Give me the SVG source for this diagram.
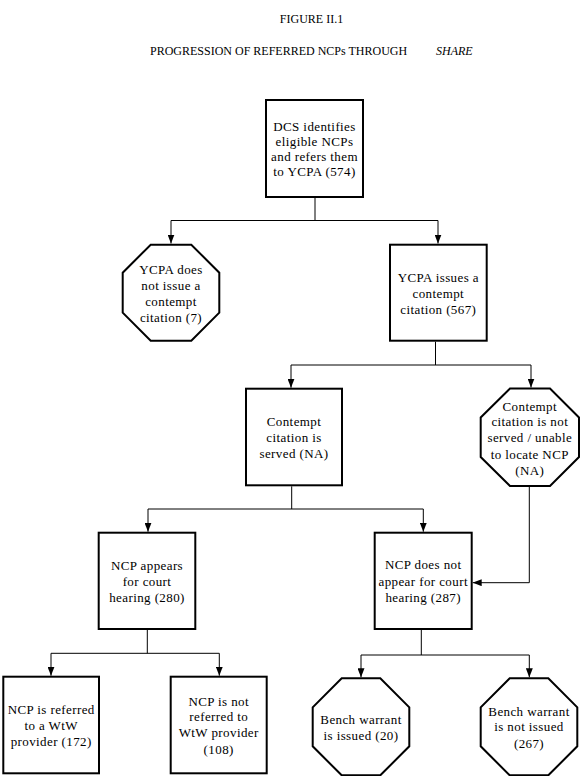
<svg xmlns="http://www.w3.org/2000/svg" width="582" height="776" viewBox="0 0 582 776">
<style>
.t{font-family:"Liberation Serif",serif;font-size:12px;fill:#000}
.n{font-family:"Liberation Serif",serif;font-size:13px;text-anchor:middle;letter-spacing:0.4px;fill:#000}
.box{fill:#fff;stroke:#000;stroke-width:2}
.c{fill:none;stroke:#000;stroke-width:1}
</style>
<defs>
<marker id="ah" markerUnits="userSpaceOnUse" markerWidth="9" markerHeight="7" refX="9" refY="3.5" orient="auto">
<path d="M0,0 L9,3.5 L0,7 z" fill="#000"/>
</marker>
</defs>
<rect width="582" height="776" fill="#fff"/>
<g id="title">
<text class="t" x="311.5" y="23" text-anchor="middle">FIGURE II.1</text>
<text class="t" x="150" y="55">PROGRESSION OF REFERRED NCPs THROUGH</text>
<text class="t" x="436" y="55" font-style="italic">SHARE</text>
</g>
<g id="connectors">
<path class="c" d="M315,198 V220.5 M171,220.5 H438"/>
<path class="c" d="M171,220.5 V243.5" marker-end="url(#ah)"/>
<path class="c" d="M438,220.5 V243.5" marker-end="url(#ah)"/>
<path class="c" d="M435.5,341.7 V365 M291,365 H531"/>
<path class="c" d="M291,365 V387.7" marker-end="url(#ah)"/>
<path class="c" d="M531,365 V387.5" marker-end="url(#ah)"/>
<path class="c" d="M291.7,486.3 V509 M148,509 H423.3"/>
<path class="c" d="M148,509 V531.7" marker-end="url(#ah)"/>
<path class="c" d="M423.3,509 V531.7" marker-end="url(#ah)"/>
<path class="c" d="M529.3,487 V582.7 H472.7" marker-end="url(#ah)"/>
<path class="c" d="M147.3,630 V653.3 M51,653.3 H219.3"/>
<path class="c" d="M51,653.3 V675.7" marker-end="url(#ah)"/>
<path class="c" d="M219.3,653.3 V675.7" marker-end="url(#ah)"/>
<path class="c" d="M421.3,630 V655 M361,655 H529.3"/>
<path class="c" d="M361,655 V677.3" marker-end="url(#ah)"/>
<path class="c" d="M529.3,655 V677.3" marker-end="url(#ah)"/>
</g>
<g id="n1">
<rect class="box" x="266" y="100" width="97" height="97"/>
<text class="n" x="314.5" y="131">DCS identifies</text>
<text class="n" x="314.5" y="146">eligible NCPs</text>
<text class="n" x="314.5" y="161">and refers them</text>
<text class="n" x="314.5" y="176">to YCPA (574)</text>
</g>
<g id="n2">
<polygon class="box" points="150.7,244.7 191.3,244.7 219.3,272.7 219.3,312.7 191.3,340.7 150.7,340.7 122.7,312.7 122.7,272.7"/>
<text class="n" x="171" y="274">YCPA does</text>
<text class="n" x="171" y="289.5">not issue a</text>
<text class="n" x="171" y="305.5">contempt</text>
<text class="n" x="171" y="321.5">citation (7)</text>
</g>
<g id="n3">
<rect class="box" x="390" y="244.7" width="96.7" height="96"/>
<text class="n" x="438.3" y="282">YCPA issues a</text>
<text class="n" x="438.3" y="298">contempt</text>
<text class="n" x="438.3" y="314">citation (567)</text>
</g>
<g id="n4">
<rect class="box" x="246" y="388.7" width="96" height="96.6"/>
<text class="n" x="294" y="426">Contempt</text>
<text class="n" x="294" y="442">citation is</text>
<text class="n" x="294" y="458">served (NA)</text>
</g>
<g id="n5">
<polygon class="box" points="510,388.5 550,388.5 579,417.5 579,457 550,486 510,486 480.7,457 480.7,417.5"/>
<text class="n" x="529.8" y="410.5">Contempt</text>
<text class="n" x="529.8" y="426">citation is not</text>
<text class="n" x="529.8" y="442">served / unable</text>
<text class="n" x="529.8" y="458.5">to locate NCP</text>
<text class="n" x="529.8" y="474.5">(NA)</text>
</g>
<g id="n6">
<rect class="box" x="98.7" y="532.7" width="96.6" height="96.3"/>
<text class="n" x="147" y="569.5">NCP appears</text>
<text class="n" x="147" y="585.5">for court</text>
<text class="n" x="147" y="602">hearing (280)</text>
</g>
<g id="n7">
<rect class="box" x="374.7" y="532.7" width="97" height="96.3"/>
<text class="n" x="423.2" y="569">NCP does not</text>
<text class="n" x="423.2" y="585.5">appear for court</text>
<text class="n" x="423.2" y="602">hearing (287)</text>
</g>
<g id="n8">
<rect class="box" x="3.3" y="676.7" width="95.7" height="96.6"/>
<text class="n" x="51.2" y="714">NCP is referred</text>
<text class="n" x="51.2" y="729.5">to a WtW</text>
<text class="n" x="51.2" y="745.5">provider (172)</text>
</g>
<g id="n9">
<rect class="box" x="170.7" y="676.7" width="96" height="96.6"/>
<text class="n" x="218.7" y="705.5">NCP is not</text>
<text class="n" x="218.7" y="721">referred to</text>
<text class="n" x="218.7" y="737">WtW provider</text>
<text class="n" x="218.7" y="754">(108)</text>
</g>
<g id="n10">
<polygon class="box" points="341.7,678.3 380.3,678.3 409.3,707.3 409.3,746.3 380.3,775.3 341.7,775.3 312.7,746.3 312.7,707.3"/>
<text class="n" x="361" y="724">Bench warrant</text>
<text class="n" x="361" y="739.5">is issued (20)</text>
</g>
<g id="n11">
<polygon class="box" points="509.7,678.3 548.3,678.3 577.3,707.3 577.3,746.3 548.3,775.3 509.7,775.3 480.7,746.3 480.7,707.3"/>
<text class="n" x="529" y="715.5">Bench warrant</text>
<text class="n" x="529" y="731">is not issued</text>
<text class="n" x="529" y="747.5">(267)</text>
</g>
</svg>
